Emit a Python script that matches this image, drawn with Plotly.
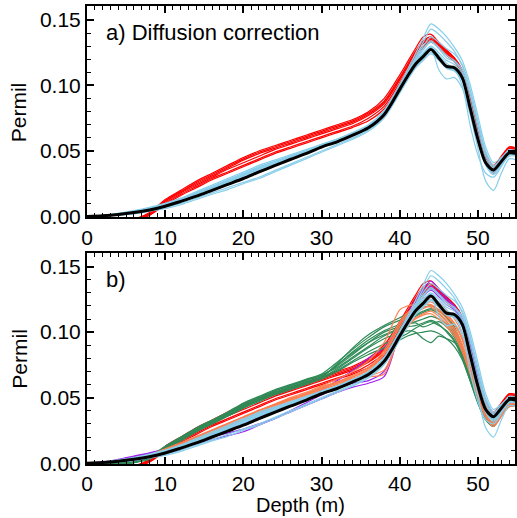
import plotly.graph_objects as go
from plotly.subplots import make_subplots

depth = [0, 2, 4, 6, 8, 10, 12, 14, 16, 18, 20, 22, 24, 26, 28, 30, 32, 34, 36, 38,
         40, 41, 42, 43, 44, 45, 46, 47, 48, 49, 50, 51, 52, 53, 54, 55]

mean_profile = [0, 0.0005, 0.0015, 0.003, 0.005, 0.0078, 0.0115, 0.0155, 0.020, 0.0245, 0.029, 0.034,
                0.0388, 0.0435, 0.048, 0.053, 0.057, 0.062, 0.0677, 0.0777, 0.097, 0.107, 0.116, 0.122,
                0.1275, 0.121, 0.1145, 0.1135, 0.106, 0.083, 0.059, 0.041, 0.0355, 0.042, 0.0485, 0.048]

red_runs = [
    [0, -0.001, -0.003, -0.002, 0.003, 0.013, 0.020, 0.027, 0.033, 0.039, 0.045, 0.050, 0.054, 0.058, 0.062, 0.066, 0.070, 0.074, 0.080, 0.090,
     0.108, 0.118, 0.128, 0.137, 0.139, 0.133, 0.127, 0.121, 0.111, 0.090, 0.066, 0.046, 0.036, 0.044, 0.053, 0.052],
    [0, -0.001, -0.003, -0.003, 0.002, 0.012, 0.019, 0.026, 0.032, 0.038, 0.044, 0.049, 0.053, 0.057, 0.061, 0.065, 0.069, 0.073, 0.079, 0.088,
     0.106, 0.116, 0.126, 0.134, 0.137, 0.132, 0.126, 0.120, 0.110, 0.089, 0.065, 0.045, 0.037, 0.045, 0.052, 0.051],
    [0, -0.001, -0.002, -0.002, 0.002, 0.011, 0.018, 0.024, 0.030, 0.036, 0.041, 0.046, 0.051, 0.055, 0.059, 0.063, 0.067, 0.071, 0.077, 0.086,
     0.104, 0.114, 0.124, 0.132, 0.135, 0.131, 0.125, 0.119, 0.110, 0.090, 0.067, 0.047, 0.038, 0.045, 0.052, 0.051],
    [0, -0.001, -0.003, -0.003, 0.001, 0.010, 0.017, 0.023, 0.029, 0.034, 0.039, 0.044, 0.049, 0.053, 0.057, 0.061, 0.065, 0.069, 0.075, 0.084,
     0.102, 0.112, 0.122, 0.130, 0.134, 0.130, 0.124, 0.119, 0.111, 0.092, 0.069, 0.048, 0.034, 0.043, 0.051, 0.050],
    [0, -0.002, -0.004, -0.003, 0.001, 0.009, 0.016, 0.022, 0.028, 0.033, 0.038, 0.043, 0.048, 0.052, 0.056, 0.060, 0.064, 0.068, 0.073, 0.082,
     0.100, 0.110, 0.120, 0.129, 0.133, 0.129, 0.123, 0.118, 0.109, 0.089, 0.064, 0.043, 0.033, 0.042, 0.051, 0.050],
    [0, -0.001, -0.002, -0.002, 0.002, 0.012, 0.019, 0.025, 0.031, 0.037, 0.043, 0.048, 0.052, 0.056, 0.060, 0.064, 0.068, 0.072, 0.078, 0.087,
     0.105, 0.115, 0.125, 0.133, 0.136, 0.131, 0.126, 0.121, 0.112, 0.091, 0.068, 0.048, 0.039, 0.046, 0.053, 0.052],
]

blue_runs = [
    [0, 0.0008, 0.0025, 0.0045, 0.007, 0.010, 0.014, 0.019, 0.024, 0.029, 0.034, 0.039, 0.043, 0.047, 0.051, 0.055, 0.059, 0.064, 0.070, 0.081,
     0.101, 0.112, 0.124, 0.136, 0.147, 0.143, 0.137, 0.129, 0.119, 0.101, 0.077, 0.053, 0.041, 0.045, 0.050, 0.047],
    [0, 0.0007, 0.002, 0.004, 0.0065, 0.0095, 0.0135, 0.018, 0.023, 0.028, 0.033, 0.038, 0.042, 0.046, 0.050, 0.054, 0.058, 0.063, 0.069, 0.080,
     0.099, 0.110, 0.121, 0.133, 0.143, 0.139, 0.133, 0.126, 0.115, 0.097, 0.073, 0.050, 0.039, 0.044, 0.050, 0.047],
    [0, 0.0005, 0.0015, 0.003, 0.005, 0.008, 0.012, 0.016, 0.021, 0.025, 0.030, 0.035, 0.039, 0.044, 0.048, 0.053, 0.057, 0.062, 0.067, 0.077,
     0.096, 0.106, 0.116, 0.124, 0.128, 0.112, 0.105, 0.106, 0.098, 0.078, 0.052, 0.027, 0.020, 0.033, 0.044, 0.043],
    [0, 0.0006, 0.002, 0.0035, 0.006, 0.009, 0.013, 0.0175, 0.022, 0.027, 0.032, 0.037, 0.041, 0.046, 0.050, 0.055, 0.059, 0.064, 0.069, 0.080,
     0.099, 0.109, 0.119, 0.127, 0.133, 0.128, 0.121, 0.118, 0.110, 0.088, 0.063, 0.043, 0.036, 0.043, 0.049, 0.048],
    [0, 0.0005, 0.0015, 0.003, 0.0055, 0.0085, 0.0125, 0.017, 0.0215, 0.026, 0.031, 0.036, 0.040, 0.045, 0.049, 0.054, 0.058, 0.063, 0.068, 0.079,
     0.098, 0.108, 0.118, 0.125, 0.130, 0.125, 0.119, 0.116, 0.108, 0.086, 0.061, 0.042, 0.034, 0.041, 0.048, 0.048],
    [0, 0.0004, 0.001, 0.0025, 0.0045, 0.007, 0.010, 0.014, 0.018, 0.022, 0.026, 0.030, 0.035, 0.040, 0.045, 0.050, 0.055, 0.060, 0.066, 0.076,
     0.095, 0.105, 0.114, 0.120, 0.125, 0.120, 0.114, 0.112, 0.105, 0.084, 0.060, 0.040, 0.033, 0.040, 0.047, 0.047],
    [0, 0.0003, 0.001, 0.002, 0.004, 0.006, 0.009, 0.013, 0.017, 0.0205, 0.025, 0.029, 0.034, 0.039, 0.044, 0.049, 0.054, 0.059, 0.065, 0.075,
     0.094, 0.104, 0.113, 0.119, 0.124, 0.119, 0.113, 0.111, 0.104, 0.083, 0.058, 0.039, 0.032, 0.039, 0.046, 0.046],
    [0, 0.0007, 0.002, 0.004, 0.006, 0.0095, 0.0135, 0.018, 0.0225, 0.0275, 0.0325, 0.0375, 0.042, 0.046, 0.050, 0.054, 0.058, 0.063, 0.069, 0.079,
     0.098, 0.109, 0.120, 0.128, 0.134, 0.129, 0.123, 0.119, 0.112, 0.093, 0.068, 0.046, 0.037, 0.043, 0.050, 0.049],
    [0, 0.0005, 0.0015, 0.003, 0.005, 0.008, 0.012, 0.016, 0.0205, 0.025, 0.0295, 0.0345, 0.039, 0.044, 0.048, 0.053, 0.057, 0.062, 0.067, 0.078,
     0.097, 0.107, 0.117, 0.124, 0.129, 0.123, 0.117, 0.112, 0.100, 0.070, 0.047, 0.033, 0.030, 0.038, 0.047, 0.047],
    [0, 0.0006, 0.0018, 0.0035, 0.0058, 0.0088, 0.0128, 0.0172, 0.0218, 0.0265, 0.0315, 0.0365, 0.041, 0.0455, 0.0495, 0.0535, 0.0575, 0.0625, 0.068, 0.079,
     0.099, 0.110, 0.121, 0.130, 0.137, 0.133, 0.128, 0.124, 0.116, 0.097, 0.071, 0.048, 0.038, 0.044, 0.051, 0.050],
]

green_runs = [
    [0, 0, 0, 0.001, 0.005, 0.013, 0.020, 0.027, 0.033, 0.039, 0.046, 0.051, 0.056, 0.060, 0.064, 0.068, 0.077, 0.087, 0.096, 0.104,
     0.109, 0.111, 0.113, 0.116, 0.118, 0.116, 0.111, 0.102, 0.087, 0.069, 0.051, 0.036, 0.031, 0.038, 0.045, 0.045],
    [0, 0, 0, 0.0005, 0.004, 0.012, 0.019, 0.026, 0.032, 0.038, 0.045, 0.050, 0.055, 0.059, 0.063, 0.067, 0.074, 0.083, 0.092, 0.100,
     0.104, 0.106, 0.108, 0.110, 0.112, 0.110, 0.106, 0.098, 0.084, 0.066, 0.048, 0.034, 0.029, 0.037, 0.044, 0.044],
    [0, 0, 0, 0.001, 0.004, 0.011, 0.018, 0.025, 0.031, 0.037, 0.043, 0.048, 0.053, 0.057, 0.061, 0.065, 0.072, 0.080, 0.088, 0.095,
     0.099, 0.101, 0.100, 0.095, 0.092, 0.097, 0.095, 0.092, 0.083, 0.067, 0.049, 0.035, 0.030, 0.037, 0.044, 0.044],
    [0, 0, 0, 0.0005, 0.003, 0.010, 0.017, 0.024, 0.030, 0.036, 0.042, 0.047, 0.052, 0.056, 0.060, 0.064, 0.070, 0.077, 0.083, 0.088,
     0.094, 0.097, 0.099, 0.100, 0.101, 0.099, 0.095, 0.089, 0.079, 0.063, 0.046, 0.033, 0.028, 0.036, 0.043, 0.044],
    [0, 0, 0, 0.001, 0.005, 0.012, 0.019, 0.026, 0.032, 0.038, 0.044, 0.049, 0.054, 0.058, 0.062, 0.066, 0.075, 0.085, 0.094, 0.101,
     0.106, 0.109, 0.112, 0.115, 0.117, 0.114, 0.108, 0.100, 0.086, 0.068, 0.050, 0.036, 0.032, 0.039, 0.046, 0.045],
    [0, 0, 0, 0.0005, 0.004, 0.011, 0.018, 0.024, 0.030, 0.036, 0.042, 0.048, 0.053, 0.057, 0.061, 0.065, 0.071, 0.078, 0.085, 0.091,
     0.096, 0.099, 0.103, 0.106, 0.108, 0.105, 0.101, 0.094, 0.081, 0.064, 0.047, 0.034, 0.029, 0.037, 0.044, 0.044],
    [0, 0, 0, 0.001, 0.005, 0.012, 0.019, 0.025, 0.031, 0.037, 0.044, 0.049, 0.054, 0.058, 0.062, 0.066, 0.075, 0.084, 0.092, 0.098,
     0.103, 0.106, 0.107, 0.104, 0.106, 0.108, 0.104, 0.096, 0.083, 0.066, 0.049, 0.035, 0.030, 0.038, 0.045, 0.045],
    [0, 0, 0, 0.0008, 0.0045, 0.0125, 0.0195, 0.0265, 0.0325, 0.0385, 0.0455, 0.0505, 0.0555, 0.0595, 0.0635, 0.0675, 0.073, 0.081, 0.089, 0.097,
     0.102, 0.104, 0.105, 0.107, 0.109, 0.106, 0.100, 0.093, 0.080, 0.063, 0.046, 0.033, 0.029, 0.037, 0.044, 0.044],
    [0, 0, 0, 0.0006, 0.0042, 0.0118, 0.0188, 0.0255, 0.0315, 0.0375, 0.0435, 0.0485, 0.0535, 0.0575, 0.0615, 0.0655, 0.076, 0.088, 0.098, 0.105,
     0.111, 0.114, 0.117, 0.119, 0.120, 0.117, 0.112, 0.104, 0.089, 0.070, 0.052, 0.037, 0.032, 0.039, 0.046, 0.045],
]

orange_runs = [
    [0, 0.0006, 0.002, 0.004, 0.0065, 0.0105, 0.015, 0.020, 0.025, 0.030, 0.035, 0.040, 0.045, 0.049, 0.053, 0.058, 0.062, 0.066, 0.071, 0.083,
     0.104, 0.113, 0.120, 0.124, 0.125, 0.120, 0.114, 0.107, 0.095, 0.078, 0.059, 0.042, 0.033, 0.039, 0.046, 0.046],
    [0, 0.0005, 0.0018, 0.0038, 0.006, 0.010, 0.0145, 0.019, 0.024, 0.029, 0.034, 0.039, 0.044, 0.048, 0.052, 0.057, 0.061, 0.064, 0.066, 0.068,
     0.100, 0.108, 0.114, 0.118, 0.120, 0.116, 0.110, 0.103, 0.091, 0.074, 0.055, 0.039, 0.031, 0.038, 0.045, 0.045],
    [0, 0.0006, 0.002, 0.004, 0.0065, 0.011, 0.0155, 0.0205, 0.0255, 0.0305, 0.0355, 0.0405, 0.045, 0.050, 0.054, 0.059, 0.064, 0.070, 0.078, 0.092,
     0.117, 0.120, 0.121, 0.122, 0.123, 0.119, 0.113, 0.106, 0.094, 0.077, 0.058, 0.041, 0.032, 0.038, 0.045, 0.045],
    [0, 0.0005, 0.0015, 0.0035, 0.0055, 0.009, 0.013, 0.0175, 0.022, 0.027, 0.032, 0.037, 0.042, 0.046, 0.050, 0.055, 0.059, 0.063, 0.068, 0.079,
     0.099, 0.106, 0.111, 0.114, 0.116, 0.112, 0.106, 0.099, 0.087, 0.070, 0.052, 0.037, 0.029, 0.036, 0.044, 0.044],
    [0, 0.0006, 0.002, 0.004, 0.0065, 0.0105, 0.015, 0.020, 0.025, 0.030, 0.035, 0.040, 0.045, 0.049, 0.053, 0.058, 0.062, 0.067, 0.073, 0.086,
     0.108, 0.115, 0.119, 0.121, 0.121, 0.117, 0.112, 0.106, 0.096, 0.081, 0.063, 0.045, 0.035, 0.040, 0.047, 0.046],
    [0, 0.0005, 0.0017, 0.0037, 0.006, 0.0095, 0.0135, 0.018, 0.023, 0.028, 0.033, 0.038, 0.043, 0.047, 0.051, 0.056, 0.060, 0.064, 0.067, 0.071,
     0.096, 0.104, 0.110, 0.113, 0.114, 0.110, 0.104, 0.097, 0.085, 0.068, 0.050, 0.035, 0.028, 0.036, 0.043, 0.044],
    [0, 0.0006, 0.0019, 0.0039, 0.0063, 0.0102, 0.0147, 0.0197, 0.0247, 0.0297, 0.0347, 0.0397, 0.0447, 0.049, 0.053, 0.058, 0.062, 0.066, 0.072, 0.084,
     0.106, 0.114, 0.121, 0.126, 0.127, 0.123, 0.117, 0.110, 0.099, 0.082, 0.062, 0.044, 0.034, 0.040, 0.047, 0.046],
    [0, 0.0005, 0.0016, 0.0036, 0.0058, 0.0095, 0.0138, 0.0185, 0.0235, 0.0285, 0.0335, 0.0385, 0.0435, 0.048, 0.052, 0.057, 0.061, 0.065, 0.069, 0.076,
     0.101, 0.109, 0.115, 0.119, 0.119, 0.114, 0.108, 0.101, 0.089, 0.072, 0.053, 0.038, 0.030, 0.037, 0.045, 0.045],
]

purple_runs = [
    [0, 0.001, 0.003, 0.0055, 0.008, 0.011, 0.014, 0.017, 0.020, 0.023, 0.026, 0.030, 0.034, 0.039, 0.044, 0.049, 0.054, 0.058, 0.061, 0.066,
     0.100, 0.112, 0.124, 0.133, 0.139, 0.133, 0.126, 0.120, 0.110, 0.089, 0.064, 0.044, 0.035, 0.042, 0.050, 0.049],
    [0, 0.0008, 0.0025, 0.005, 0.0075, 0.0105, 0.014, 0.018, 0.022, 0.026, 0.030, 0.035, 0.040, 0.045, 0.050, 0.056, 0.063, 0.071, 0.080, 0.088,
     0.104, 0.114, 0.124, 0.131, 0.135, 0.130, 0.124, 0.119, 0.110, 0.090, 0.066, 0.046, 0.036, 0.043, 0.050, 0.049],
    [0, 0.0006, 0.002, 0.004, 0.0065, 0.0095, 0.012, 0.015, 0.018, 0.021, 0.024, 0.029, 0.034, 0.040, 0.046, 0.052, 0.057, 0.061, 0.063, 0.070,
     0.098, 0.109, 0.119, 0.127, 0.132, 0.127, 0.121, 0.117, 0.108, 0.087, 0.062, 0.043, 0.035, 0.042, 0.049, 0.048],
]

x_ticks = [0, 10, 20, 30, 40, 50]
y_ticks = [0.00, 0.05, 0.10, 0.15]
y_tick_text = ["0.00", "0.05", "0.10", "0.15"]

RED = "#FF0000"
BLUE = "#87CEEB"
GREEN = "#2E8B57"
ORANGE = "#FF7F50"
PURPLE = "#A020F0"

W, H = 517, 518
ML, MR, MT, MB = 87, 0, 6, 54
FONT = "Liberation Sans, Arial, Helvetica, sans-serif"

fig = make_subplots(rows=2, cols=1, vertical_spacing=0.077, shared_xaxes=False)


def add_runs(runs, color, row, width=1.0):
    for r in runs:
        fig.add_trace(go.Scatter(x=depth, y=r, mode="lines",
                                 line=dict(color=color, width=width, shape="spline", smoothing=0.8),
                                 showlegend=False, hoverinfo="skip"), row=row, col=1)


# panel a
add_runs(red_runs, RED, 1, width=1.2)
add_runs(blue_runs, BLUE, 1, width=1.2)
add_runs([mean_profile], "black", 1, width=3)
# panel b
add_runs(red_runs, RED, 2, width=1.2)
add_runs(purple_runs, PURPLE, 2, width=1.2)
add_runs(green_runs, GREEN, 2, width=1.2)
add_runs(orange_runs, ORANGE, 2, width=1.2)
add_runs(blue_runs, BLUE, 2, width=1.2)
add_runs([mean_profile], "black", 2, width=3)

plot_h = H - MT - MB
top_a = 6.5
bot_a = 217.3
top_b = 252.7
bot_b = 464.0
dom_a = [(bot_b - bot_a) / plot_h, 1.0]
dom_b = [0.0, (bot_b - top_b) / plot_h]

axis_common = dict(showline=True, linecolor="black", linewidth=2, mirror="allticks",
                   ticks="inside", ticklen=7, tickwidth=1.5, tickcolor="black",
                   showgrid=False, zeroline=False,
                   tickfont=dict(family=FONT, size=21, color="black"))

for i, dom in ((1, dom_a), (2, dom_b)):
    xa = "xaxis" if i == 1 else "xaxis2"
    ya = "yaxis" if i == 1 else "yaxis2"
    fig.layout[xa].update(range=[0, 54.75], tickvals=x_ticks,
                          minor=dict(dtick=1, ticklen=4, tickwidth=1, ticks="inside", tickcolor="black"),
                          **axis_common)
    fig.layout[ya].update(range=[-0.0006, 0.1606], domain=dom, tickvals=y_ticks, ticktext=y_tick_text,
                          minor=dict(dtick=0.01, ticklen=4, tickwidth=1, ticks="inside", tickcolor="black"),
                          **axis_common)

pw = W - ML - MR


def px_to_paper_x(px):
    return (px - ML) / pw


def px_to_paper_y(py):
    return (H - MB - py) / plot_h


annotations = [
    dict(text="a) Diffusion correction", x=px_to_paper_x(104), y=px_to_paper_y(32), size=22),
    dict(text="b)", x=px_to_paper_x(104), y=px_to_paper_y(279), size=22),
    dict(text="Permil", x=px_to_paper_x(19), y=px_to_paper_y((top_a + bot_a) / 2), size=21, textangle=-90),
    dict(text="Permil", x=px_to_paper_x(19), y=px_to_paper_y((top_b + bot_b) / 2), size=21, textangle=-90),
    dict(text="Depth (m)", x=px_to_paper_x(301), y=px_to_paper_y(505), size=20),
]
for a in annotations:
    size = a.pop("size")
    anchor = "center" if a["text"] in ("Permil", "Depth (m)") else "left"
    a.update(xref="paper", yref="paper", xanchor=anchor, yanchor="middle", showarrow=False,
             font=dict(family=FONT, size=size, color="black"))

fig.update_layout(width=W, height=H, margin=dict(l=ML, r=MR, t=MT, b=MB),
                  plot_bgcolor="white", paper_bgcolor="white",
                  showlegend=False, annotations=annotations)

fig.write_html("out.html")
